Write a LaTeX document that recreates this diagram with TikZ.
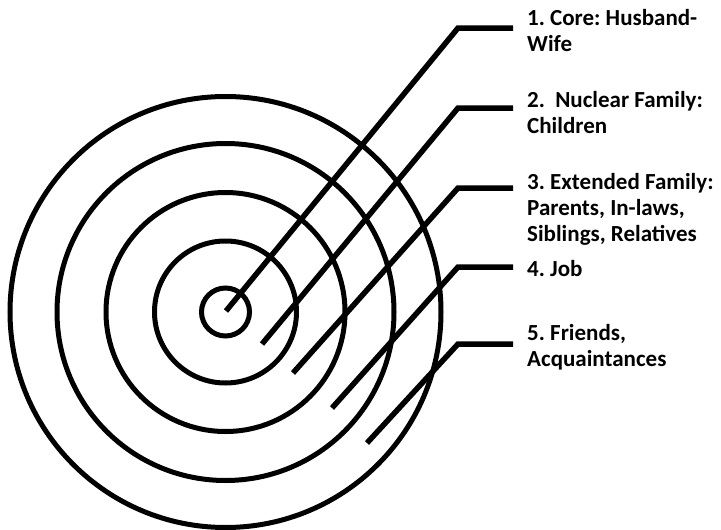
\documentclass[tikz,border=0pt]{standalone}
\usepackage{fontspec}
\setmainfont{Carlito}
\frenchspacing
\begin{document}
\begin{tikzpicture}[x=1pt,y=-1pt,
  ring/.style={draw=black,line width=5pt},
  leader/.style={draw=black,line width=5.5pt,line join=miter},
  lbl/.style={anchor=base west,inner sep=0pt,align=left,
    font=\fontsize{23}{26}\selectfont\bfseries}]
\useasboundingbox[fill=white] (0,0) rectangle (721,530);
\coordinate (c) at (225.5,312);
\foreach \r/\n in {24/r1,71/r2,119.5/r3,168.5/r4,215.5/r5}
  \draw[ring] (c) circle[radius=\r];
% start points and elbows
\coordinate (s1) at (226,311);  \coordinate (e1) at (458,28);   \coordinate (h1) at (513,28);
\coordinate (s2) at (262,344);  \coordinate (e2) at (458,108);  \coordinate (h2) at (513,108);
\coordinate (s3) at (293,373);  \coordinate (e3) at (458,188);  \coordinate (h3) at (513,188);
\coordinate (s4) at (332,408);  \coordinate (e4) at (458,267);  \coordinate (h4) at (513,267);
\coordinate (s5) at (367,443);  \coordinate (e5) at (458,344);  \coordinate (h5) at (513,344);
\foreach \i in {1,...,5}
  \draw[leader] (s\i) -- (e\i) -- (h\i);
% labels (base anchor = baseline of the last line)
\node[lbl] (t1) at (527,51)  {1. Core: Husband-\\Wife};
\node[lbl] (t2) at (527,133) {2.\hspace{0.45em}Nuclear Family:\\Children};
\node[lbl] (t3) at (527,241) {3. Extended Family:\\Parents, In-laws,\\Siblings, Relatives};
\node[lbl] (t4) at (527,276) {4. Job};
\node[lbl] (t5) at (527,366) {5. Friends,\\Acquaintances};
\end{tikzpicture}
\end{document}
